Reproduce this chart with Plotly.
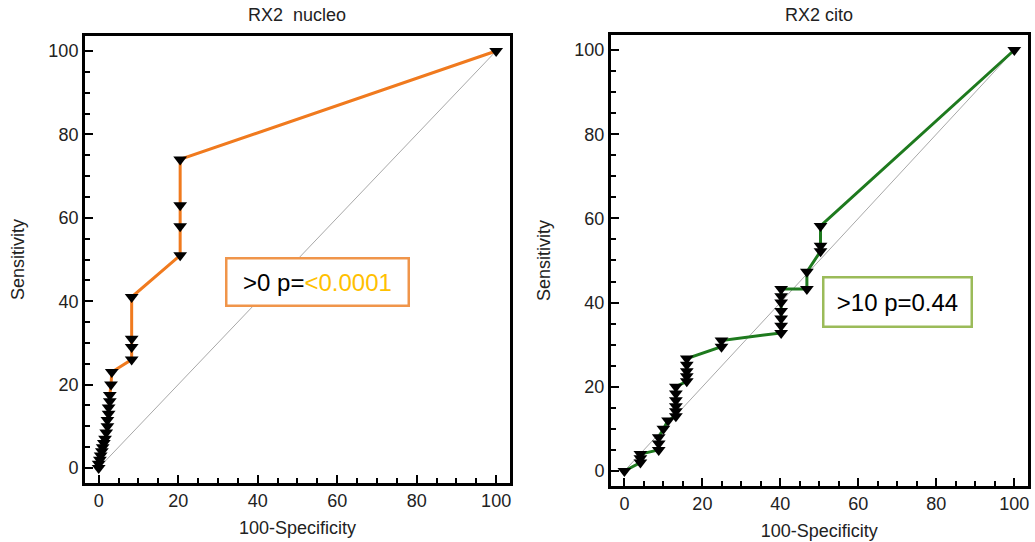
import plotly.graph_objects as go

# ---- data ----
nucleo_fpr = [0, 0, 0.3, 0.5, 0.8, 1.0, 1.3, 1.6, 1.9, 2.2, 2.2, 2.5, 2.5, 2.8, 2.8, 3.1, 3.3,
              8.3, 8.3, 8.3, 8.3, 20.5, 20.5, 20.5, 20.5, 100]
nucleo_sens = [0, 1, 2, 3, 4, 5, 6, 7, 8.5, 10, 11.5, 13, 14.5, 16, 17.5, 20, 23,
               26, 29, 31, 41, 51, 58, 63, 74, 100]

cito_fpr = [0, 4.1, 4.1, 4.1, 8.8, 8.8, 8.8, 10.0, 11.2, 13.2, 13.2, 13.2, 13.2, 13.2, 13.2,
            16.0, 16.0, 16.0, 16.0, 16.0, 24.9, 24.9, 40.2, 40.2, 40.2, 40.2, 40.2, 40.2, 40.2,
            46.8, 46.8, 50.3, 50.3, 50.3, 100]
cito_sens = [0, 2.0, 3.0, 4.0, 5.0, 6.5, 8.0, 10.0, 12.0, 13.0, 14.2, 15.4, 16.8, 18.4, 20.0,
             21.3, 22.5, 23.7, 25.2, 26.7, 29.5, 31.0, 32.8, 34.5, 36.2, 38.0, 40.0, 41.5, 43.2,
             43.2, 47.3, 52.2, 53.5, 58.2, 100]

diag = [0, 100]
titles = ["RX2  nucleo", "RX2 cito"]
tick_vals = [0, 20, 40, 60, 80, 100]

FONT = "Arial, Liberation Sans, sans-serif"
fig = go.Figure()

for i, (fx, sy, col) in enumerate([(nucleo_fpr, nucleo_sens, "#F07A1E"),
                                    (cito_fpr, cito_sens, "#1E7A1E")]):
    xa = "x" if i == 0 else "x2"
    ya = "y" if i == 0 else "y2"
    fig.add_trace(go.Scatter(x=diag, y=diag, mode="lines", xaxis=xa, yaxis=ya,
                             line=dict(color="#A8A8A8", width=1), showlegend=False,
                             hoverinfo="skip"))
    fig.add_trace(go.Scatter(x=fx, y=sy, mode="lines+markers", xaxis=xa, yaxis=ya,
                             line=dict(color=col, width=3),
                             marker=dict(symbol="triangle-down", size=12, color="black"),
                             showlegend=False))

axis_common = dict(range=[-3.5, 103.5], showgrid=False, zeroline=False, showline=True,
                   linecolor="black", linewidth=2.5, mirror=True, ticks="inside",
                   ticklen=8, tickwidth=2, tickcolor="black", tickvals=tick_vals,
                   tickfont=dict(family=FONT, size=18, color="#222"),
                   minor=dict(dtick=5, ticks="inside", ticklen=5, tickwidth=1.5,
                              tickcolor="black", showgrid=False),
                   fixedrange=True)

fig.update_layout(
    width=1035, height=542,
    margin=dict(l=0, r=0, t=0, b=0),
    paper_bgcolor="white", plot_bgcolor="white",
    font=dict(family=FONT, size=18, color="#222"),
    xaxis=dict(axis_common, domain=[0.0819, 0.4928], anchor="y",
               title=dict(text="100-Specificity", standoff=12, font=dict(size=18))),
    yaxis=dict(axis_common, domain=[0.1096, 0.9328], anchor="x",
               title=dict(text="Sensitivity", standoff=20, font=dict(size=18))),
    xaxis2=dict(axis_common, domain=[0.5901, 0.9932], anchor="y2",
                title=dict(text="100-Specificity", standoff=12, font=dict(size=18))),
    yaxis2=dict(axis_common, domain=[0.1039, 0.9349], anchor="x2",
                title=dict(text="Sensitivity", standoff=20, font=dict(size=18))),
)

fig.add_annotation(text=titles[0], x=0.2873, y=0.972, xref="paper", yref="paper",
                   xanchor="center", yanchor="middle",
                   showarrow=False, font=dict(family=FONT, size=18, color="#222"))
fig.add_annotation(text=titles[1], x=0.7917, y=0.972, xref="paper", yref="paper",
                   xanchor="center", yanchor="middle",
                   showarrow=False, font=dict(family=FONT, size=18, color="#222"))

fig.add_annotation(text="&gt;0 p=<span style='color:#FFC000'>&lt;0.0001</span>",
                   x=0.3072, y=0.4788, xref="paper", yref="paper", showarrow=False,
                   xanchor="center", yanchor="middle",
                   width=180, height=45, borderpad=0, borderwidth=2.5,
                   bordercolor="#F0954A", bgcolor="white",
                   font=dict(family=FONT, size=24, color="black"))
fig.add_annotation(text="&gt;10 p=0.44",
                   x=0.8667, y=0.4437, xref="paper", yref="paper", showarrow=False,
                   xanchor="center", yanchor="middle",
                   width=146, height=47, borderpad=0, borderwidth=2.5,
                   bordercolor="#9BBB59", bgcolor="white",
                   font=dict(family=FONT, size=24, color="black"))

fig.write_html("out.html")
